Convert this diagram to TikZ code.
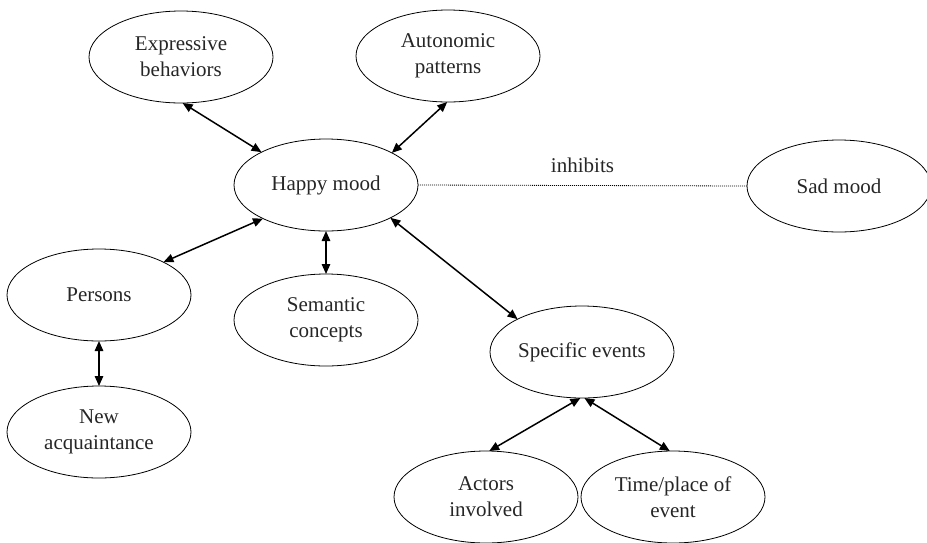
\documentclass[tikz,border=0pt]{standalone}
\usepackage{fontspec}
\setmainfont{Liberation Serif}
\usetikzlibrary{shapes.geometric,arrows.meta}
\begin{document}
\begin{tikzpicture}[x=1pt,y=-1pt,
  concept/.style={draw, ellipse, line width=0.8pt, minimum width=184pt,
    minimum height=92pt, inner sep=0pt, outer sep=0pt, align=center,
    font=\fontsize{21}{26}\selectfont, text=black!85},
  link/.style={line width=1.5pt,
    {Triangle[length=10pt,width=8.5pt]}-{Triangle[length=10pt,width=8.5pt]}},
  inhib/.style={line width=0.8pt, dash pattern=on 1pt off 1pt}]
\useasboundingbox (0,0) rectangle (927,542);

% concept nodes
\node[concept] (expr) at (181,57)  {Expressive\\behaviors};
\node[concept] (auto) at (448,56)  {Autonomic\\patterns};
\node[concept] (happy) at (326,185) {Happy mood};
\node[concept] (sad) at (839,186)  {Sad mood};
\node[concept] (pers) at (99,295)  {Persons};
\node[concept] (sem) at (326,320)  {Semantic\\concepts};
\node[concept] (spec) at (582,352) {Specific events};
\node[concept] (newacq) at (99,432) {New\\acquaintance};
\node[concept] (act) at (486,497)  {Actors\\involved};
\node[concept] (tp) at (673,497)   {Time/place of\\event};

% two-way links
\draw[link] (expr.-88) -- (happy.153);
\draw[link] (auto.-91) -- (happy.26);
\draw[link] (happy.-152) -- (pers.27);
\draw[link] (happy.south) -- (sem.north);
\draw[link] (pers.south) -- (newacq.north);
\draw[link] (happy.-27) -- (spec.153);
\draw[link] (spec.-92) -- (act.86);
\draw[link] (spec.-87) -- (tp.94);

% inhibition
\draw[inhib] (happy.east) -- node[midway, above=9pt, font=\fontsize{21}{26}\selectfont, text=black!85] (inh) {inhibits} (sad.west);
\end{tikzpicture}
\end{document}
